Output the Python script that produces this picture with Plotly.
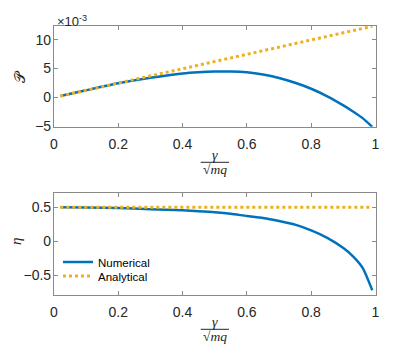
import plotly.graph_objects as go

# ---- data ----
x_num = [0.02, 0.1, 0.2, 0.3, 0.4, 0.45, 0.5, 0.55, 0.6, 0.65, 0.7, 0.75, 0.8, 0.85, 0.9, 0.93, 0.96, 0.99]
P_num_e3 = [0.25, 1.25, 2.45, 3.4, 4.15, 4.36, 4.48, 4.5, 4.36, 3.98, 3.38, 2.55, 1.52, 0.22, -1.35, -2.4, -3.55, -5.05]
eta_num = [0.5, 0.499, 0.49, 0.472, 0.455, 0.443, 0.428, 0.405, 0.371, 0.342, 0.298, 0.245, 0.16, 0.05, -0.1, -0.22, -0.39, -0.72]

x_an = [0.02, 0.99]
P_an_e3 = [0.25, 12.3]
eta_an = [0.5, 0.5]

P_ticks = [-5, 0, 5, 10]
eta_ticks = [-0.5, 0, 0.5]
x_ticks = [0, 0.2, 0.4, 0.6, 0.8, 1]
x_tick_text = ["0", "0.2", "0.4", "0.6", "0.8", "1"]

BLUE = "#0072BD"
ORANGE = "#EDB120"
OFF = 8  # page body margin
W, H = 415 - 2 * OFF, 352 - 2 * OFF


def fx(p):
    return (p - OFF) / W


def fy(p):
    return 1 - (p - OFF) / H


fig = go.Figure()
fig.add_trace(go.Scatter(x=x_num, y=P_num_e3, mode="lines", line=dict(color=BLUE, width=2.5, shape="spline", smoothing=0.6),
                         xaxis="x", yaxis="y", showlegend=False))
fig.add_trace(go.Scatter(x=x_an, y=P_an_e3, mode="lines", line=dict(color=ORANGE, width=3, dash="3px,3px"),
                         xaxis="x", yaxis="y", showlegend=False))
fig.add_trace(go.Scatter(x=x_num, y=eta_num, mode="lines", name="Numerical", legend="legend",
                         line=dict(color=BLUE, width=2.5, shape="spline", smoothing=0.6), xaxis="x2", yaxis="y2"))
fig.add_trace(go.Scatter(x=x_an, y=eta_an, mode="lines", name="Analytical", legend="legend2",
                         line=dict(color=ORANGE, width=3, dash="3px,3px"), xaxis="x2", yaxis="y2"))

axis_common = dict(showline=True, linecolor="#8a8a8a", linewidth=1, mirror="ticks", ticks="inside", ticklen=4,
                   tickcolor="#8a8a8a", showgrid=False, zeroline=False,
                   tickfont=dict(family="Liberation Sans, Arial", size=14, color="#262626"), automargin=False)

leg_common = dict(xanchor="left", yanchor="top", bgcolor="rgba(0,0,0,0)",
                  font=dict(family="Liberation Sans, Arial", size=11.5, color="#000000"))

xd = [fx(53.9), fx(375.5)]
fig.update_layout(
    width=W, height=H, margin=dict(l=0, r=0, t=0, b=0),
    paper_bgcolor="white", plot_bgcolor="white",
    xaxis=dict(domain=xd, range=[0, 1], tickvals=x_ticks, ticktext=x_tick_text, anchor="y",
               ticklabelstandoff=4, **axis_common),
    yaxis=dict(domain=[fy(126.8), fy(25.7)], range=[-5.05, 12.4], tickvals=P_ticks, anchor="x",
               ticklabelstandoff=-1, **axis_common),
    xaxis2=dict(domain=xd, range=[0, 1], tickvals=x_ticks, ticktext=x_tick_text, anchor="y2",
                ticklabelstandoff=4, **axis_common),
    yaxis2=dict(domain=[fy(295), fy(192.7)], range=[-0.79, 0.715], tickvals=eta_ticks, anchor="x2",
                ticklabelstandoff=-1, **axis_common),
    legend=dict(x=fx(58), y=fy(247.5), **leg_common),
    legend2=dict(x=fx(58), y=fy(261.5), **leg_common),
    showlegend=True,
)

annos = []
shapes = []
serif = "Liberation Serif, DejaVu Serif"
for off in (0, 167):
    # gamma / sqrt(mq)
    annos.append(dict(x=fx(215), y=fy(155.5 + off), xref="paper", yref="paper", text="<i>γ</i>", showarrow=False,
                      font=dict(family=serif, size=14, color="#262626"), xanchor="center", yanchor="middle"))
    shapes.append(dict(type="line", xref="paper", yref="paper", x0=fx(200.7), x1=fx(229),
                       y0=fy(162.3 + off), y1=fy(162.3 + off), line=dict(color="#262626", width=1)))
    annos.append(dict(x=fx(215), y=fy(169.5 + off), xref="paper", yref="paper", text="√<i>mq</i>", showarrow=False,
                      font=dict(family=serif, size=13.5, color="#262626"), xanchor="center", yanchor="middle",
                      height=15))

annos.append(dict(x=fx(20), y=fy(77), xref="paper", yref="paper", text="𝒫", showarrow=False, textangle=-90,
                  font=dict(family="DejaVu Sans, " + serif, size=15, color="#262626"), xanchor="center", yanchor="middle"))
annos.append(dict(x=fx(16), y=fy(242), xref="paper", yref="paper", text="<i>η</i>", showarrow=False, textangle=-90,
                  font=dict(family=serif, size=15, color="#262626"), xanchor="center", yanchor="middle"))
annos.append(dict(x=fx(55), y=fy(21), xref="paper", yref="paper", text="×10<sup>-3</sup>", showarrow=False,
                  font=dict(family="Liberation Sans, Arial", size=13, color="#262626"), xanchor="left", yanchor="middle"))

fig.update_layout(annotations=annos, shapes=shapes)
fig.write_html("out.html")
